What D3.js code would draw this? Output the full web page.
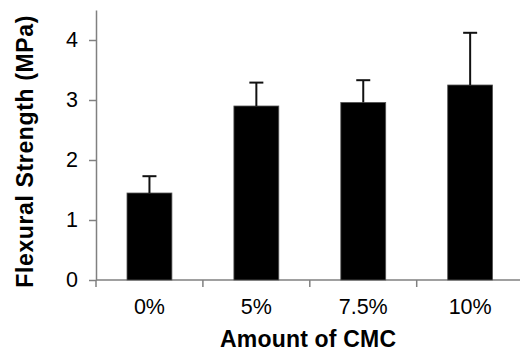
<!DOCTYPE html>
<html>
<head>
  <meta charset="utf-8">
  <script src="https://d3js.org/d3.v7.min.js"></script>
  <style>
    body { margin: 0; background: #fff; }
    text { font-family: "Liberation Sans", Arial, sans-serif; }
  </style>
</head>
<body>
<div id="chart"></div>
<script>
// data
var categories = ["0%", "5%", "7.5%", "10%"];
var strength = [1.45, 2.90, 2.96, 3.25];
var errUp = [0.28, 0.39, 0.37, 0.87];
var yTicks = [0, 1, 2, 3, 4];

var width = 520, height = 354;

var svg = d3.select("#chart")
  .append("svg")
    .attr("width", width)
    .attr("height", height);

// scales
var x = d3.scaleBand()
  .domain(categories)
  .range([96, 523.6])
  .paddingInner(0.58)
  .paddingOuter(0.29);

var y = d3.scaleLinear()
  .domain([0, 4.5])
  .range([280, 10]);

// y axis
var yAxis = svg.append("g")
  .attr("transform", "translate(96,0)")
  .call(d3.axisLeft(y).tickValues(yTicks).tickSize(7).tickSizeOuter(0).tickPadding(11).tickFormat(d3.format("d")));
yAxis.select(".domain").attr("stroke", "#808080").attr("stroke-width", 1.5);
yAxis.selectAll(".tick line").attr("stroke", "#808080").attr("stroke-width", 1.5);
yAxis.selectAll(".tick text")
  .style("font-size", "21.5px")
  .attr("fill", "#000");

// x axis line
svg.append("line")
  .attr("x1", 96).attr("x2", 524)
  .attr("y1", y(0)).attr("y2", y(0))
  .attr("stroke", "#808080")
  .attr("stroke-width", 1.5);

// ticks between categories
var gap = (x.step() - x.bandwidth()) / 2;
svg.append("g")
  .selectAll("line")
  .data(categories)
  .enter()
  .append("line")
    .attr("x1", function(d) { return x(d) - gap; })
    .attr("x2", function(d) { return x(d) - gap; })
    .attr("y1", y(0))
    .attr("y2", y(0) + 7)
    .attr("stroke", "#808080")
    .attr("stroke-width", 1.5);

// x tick labels
svg.append("g")
  .selectAll("text")
  .data(categories)
  .enter()
  .append("text")
    .attr("x", function(d) { return x(d) + x.bandwidth() / 2; })
    .attr("y", 314)
    .attr("text-anchor", "middle")
    .style("font-size", "21.5px")
    .text(function(d) { return d; });

// bars
svg.append("g")
  .selectAll("rect")
  .data(categories)
  .enter()
  .append("rect")
    .attr("x", function(d) { return x(d); })
    .attr("y", function(d, i) { return y(strength[i]); })
    .attr("width", x.bandwidth())
    .attr("height", function(d, i) { return y(0) - y(strength[i]); })
    .attr("fill", "#000")
    .attr("stroke", "#555")
    .attr("stroke-width", 0.8);

// error bars (upper only)
var err = svg.append("g").attr("stroke", "#111").attr("stroke-width", 2);
categories.forEach(function(c, i) {
  var cx = x(c) + x.bandwidth() / 2;
  err.append("line")
    .attr("x1", cx).attr("x2", cx)
    .attr("y1", y(strength[i])).attr("y2", y(strength[i] + errUp[i]));
  err.append("line")
    .attr("x1", cx - 7).attr("x2", cx + 7)
    .attr("y1", y(strength[i] + errUp[i])).attr("y2", y(strength[i] + errUp[i]));
});

// axis titles
svg.append("text")
  .attr("x", 308)
  .attr("y", 346.5)
  .attr("text-anchor", "middle")
  .style("font-size", "23px")
  .style("font-weight", "bold")
  .attr("textLength", 176)
  .attr("lengthAdjust", "spacing")
  .text("Amount of CMC");

svg.append("text")
  .attr("transform", "translate(32.7,151.7) rotate(-90)")
  .attr("text-anchor", "middle")
  .style("font-size", "23px")
  .style("font-weight", "bold")
  .attr("textLength", 272)
  .attr("lengthAdjust", "spacing")
  .text("Flexural Strength (MPa)");
</script>
</body>
</html>
